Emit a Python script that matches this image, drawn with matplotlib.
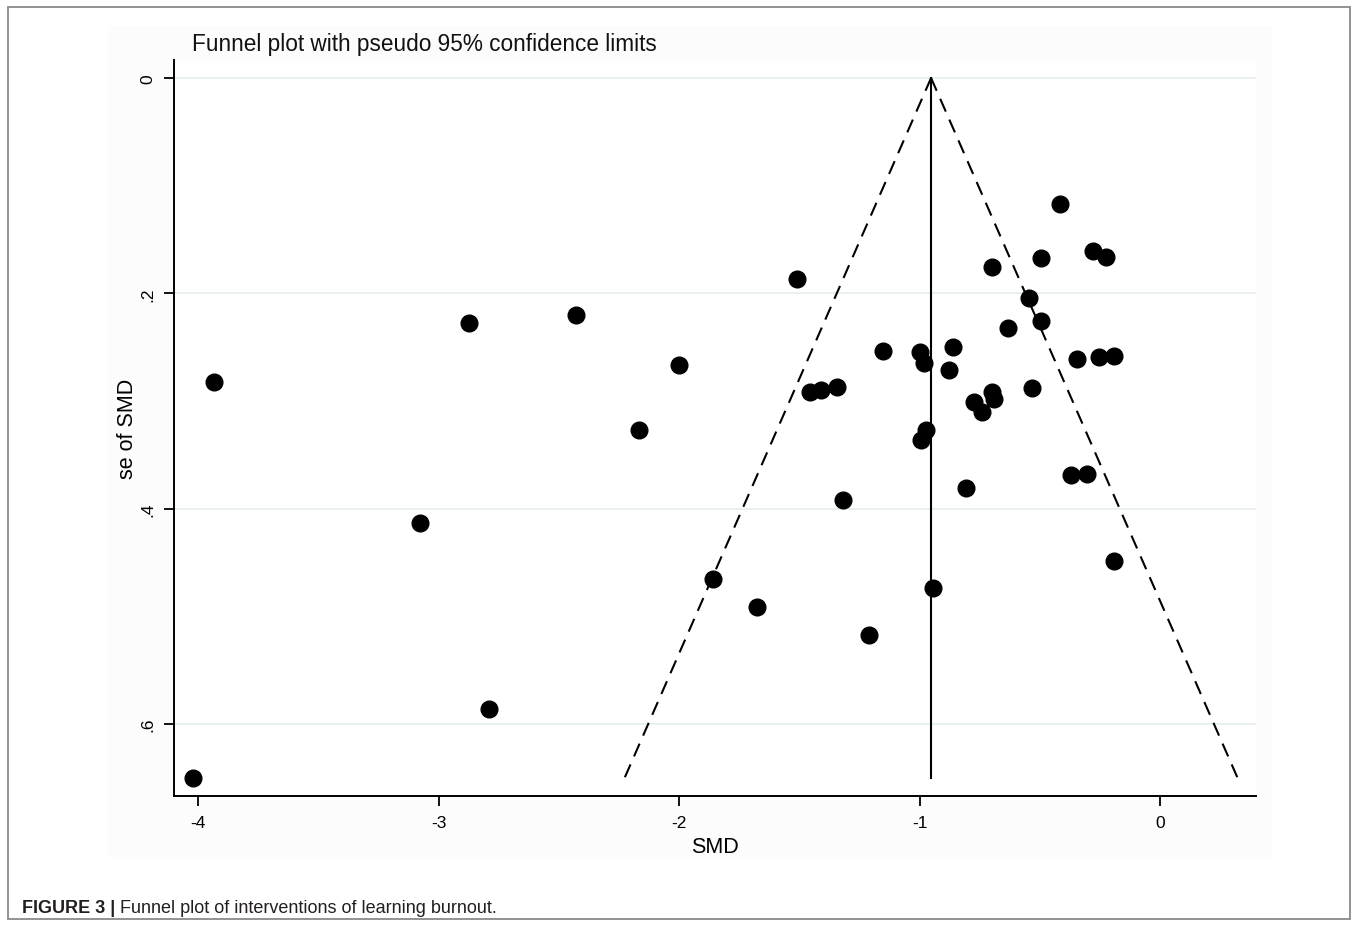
import matplotlib
matplotlib.use("Agg")
import matplotlib.pyplot as plt
from matplotlib import font_manager
from matplotlib.patches import Rectangle

# study estimates
smd = [-3.933, -4.021, -2.873, -2.428, -3.077, -2.790, -2.166, -2.000, -1.859, -1.676,
       -1.509, -1.455, -1.410, -1.343, -1.318, -1.210, -1.152, -0.998, -0.981, -0.973,
       -0.994, -0.944, -0.877, -0.861, -0.807, -0.773, -0.740, -0.699, -0.690, -0.699,
       -0.632, -0.545, -0.532, -0.495, -0.495, -0.416, -0.370, -0.345, -0.304, -0.279,
       -0.254, -0.225, -0.191, -0.191]
se = [0.2824, 0.6503, 0.2276, 0.2202, 0.4134, 0.5862, 0.3270, 0.2666, 0.4654, 0.4914,
      0.1867, 0.2917, 0.2899, 0.2870, 0.3920, 0.5174, 0.2536, 0.2545, 0.2652, 0.3274,
      0.3367, 0.4738, 0.2712, 0.2499, 0.3809, 0.3010, 0.3103, 0.2917, 0.2982, 0.1756,
      0.2322, 0.2044, 0.2880, 0.2257, 0.1672, 0.1170, 0.3688, 0.2610, 0.3679, 0.1607,
      0.2592, 0.1663, 0.2583, 0.4487]
pooled = -0.952
se_max = 0.650
z95 = 1.96

xticks = [-4, -3, -2, -1, 0]
yticks = [0, 0.2, 0.4, 0.6]
yticklabels = ["0", ".2", ".4", ".6"]

names = {f.name for f in font_manager.fontManager.ttflist}
plt.rcParams["font.family"] = ["Liberation Sans", "DejaVu Sans"]
narrow = "Liberation Sans Narrow" if "Liberation Sans Narrow" in names else "Liberation Sans"
cap_size = 14.5 if narrow != "Liberation Sans" else 13.0

W, H = 1358, 928
fig = plt.figure(figsize=(W / 100, H / 100), dpi=100)

# outer border and faint graph region (behind the axes)
fig.patches.append(Rectangle((8 / W, 1 - 920 / H), 1342 / W, 912 / H, transform=fig.transFigure,
                             fill=False, edgecolor="#8a8a8a", lw=1.3, zorder=-2))
fig.patches.append(Rectangle((108 / W, 1 - 858 / H), 1164 / W, 831 / H, transform=fig.transFigure,
                             facecolor="#fcfcfc", edgecolor="none", zorder=-2))

ax = fig.add_axes([174 / W, 1 - 797 / H, (1256 - 174) / W, (797 - 61) / H])
ax.set_facecolor("white")

ax.plot([pooled, pooled], [0, se_max], color="black", lw=1.5, zorder=2)
for sgn in (-1, 1):
    ax.plot([pooled, pooled + sgn * z95 * se_max], [0, se_max], color="black", lw=1.5,
            dashes=(6.7, 4.2), zorder=2)
ax.plot(smd, se, "o", color="black", ms=12, zorder=3)

ax.set_xlim(-4.100, 0.399)
ax.set_ylim(0.667, -0.0167)
ax.set_xticks(xticks)
ax.set_xticklabels([str(t) for t in xticks], fontsize=12.5)
ax.set_yticks(yticks)
ax.set_yticklabels(yticklabels, fontsize=12.5, rotation=90, va="center")
ax.grid(axis="y", color="#e4edf0", lw=1.2, zorder=0)
ax.set_axisbelow(True)
for s in ("top", "right"):
    ax.spines[s].set_visible(False)
for s in ("left", "bottom"):
    ax.spines[s].set_linewidth(1.4)
ax.tick_params(length=7.5, width=1.3, pad=6)

ax.set_xlabel("SMD", fontsize=15.5)
ax.xaxis.set_label_coords(0.4995, -0.068)
ax.xaxis.label.set_va("center")
ax.set_ylabel("se of SMD", fontsize=15.5)
ax.yaxis.set_label_coords(-0.0434, 0.5)
ax.yaxis.label.set_va("center")

fig.text(192 / W, 1 - 44 / H, "Funnel plot with pseudo 95% confidence limits", fontsize=16.3,
         va="center", ha="left", color="#111111")

# caption
cap_y = 1 - 913 / H
t1 = fig.text(22 / W, cap_y, "FIGURE 3 |", family=narrow, weight="bold", fontsize=cap_size,
              va="baseline", color="#231f20")
fig.canvas.draw()
bb = t1.get_window_extent()
fig.text(bb.x1 / W + 5 / W, cap_y, "Funnel plot of interventions of learning burnout.",
         family=narrow, fontsize=cap_size, va="baseline", color="#231f20")

fig.savefig("out.png", dpi=100)
